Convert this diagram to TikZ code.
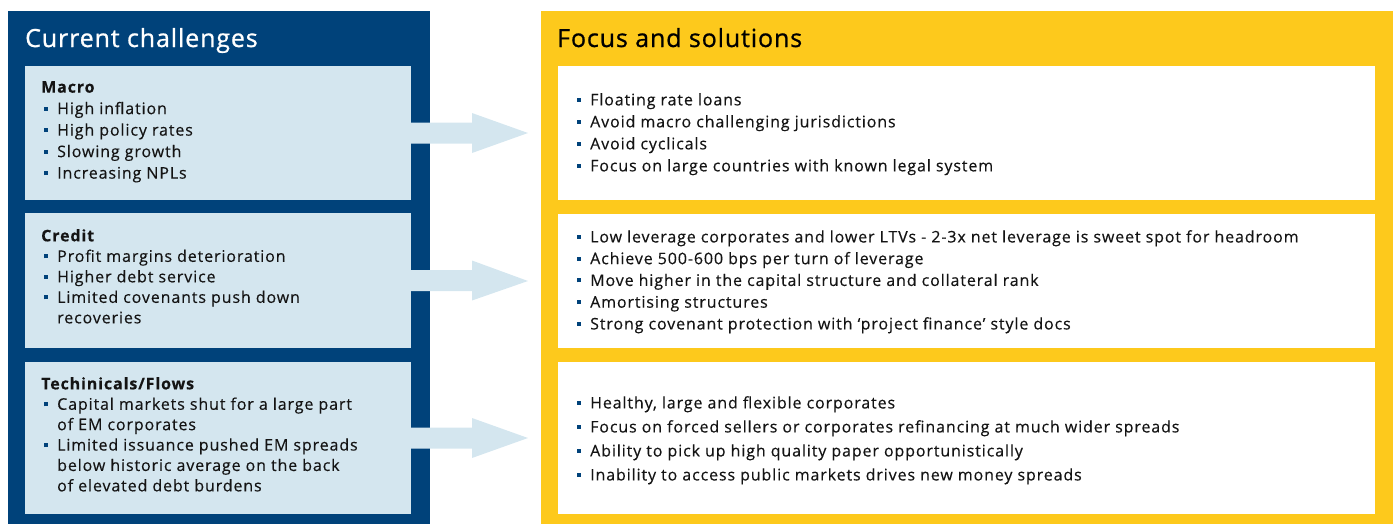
\documentclass[tikz,border=0pt]{standalone}
\usepackage{fontspec}
\setmainfont{Open Sans}[LetterSpace=5.5, FakeBold=0.3]
\newfontfamily\titlefont{Open Sans}[LetterSpace=3.5, FakeBold=0.8]
\usetikzlibrary{positioning,calc}

\definecolor{navyblue}{HTML}{00427A}
\definecolor{paleblue}{HTML}{D4E6EF}
\definecolor{sunyellow}{HTML}{FDC91C}
\definecolor{inkblack}{HTML}{141414}

% square bullet and hanging indent
\newcommand{\bul}{\makebox[13pt][l]{\textcolor{navyblue}{\rule[3.5pt]{4pt}{4pt}}}}
\newcommand{\hang}{\hspace*{13pt}}

\tikzset{
  panel/.style={anchor=north west, inner sep=0pt, outer sep=0pt},
  challenge/.style={panel, fill=paleblue, minimum width=386pt},
  solution/.style={panel, fill=white, minimum width=817pt},
  title/.style={anchor=base west, inner sep=0pt, font=\titlefont\fontsize{25}{30}\selectfont},
  listtext/.style={anchor=north west, inner sep=0pt, align=left, text=inkblack},
  flow/.style={fill=paleblue}
}

% arrow from a challenge box to a solution box
\newcommand{\flowarrow}[2]{%
  \fill[flow] ($(#1.east)+(0,-10.5)$) -- ($(#1.east)+(61,-10.5)$)
    -- ($(#1.east)+(61,-20)$) -- ($(#2.west)+(-30,0)$)
    -- ($(#1.east)+(61,20)$) -- ($(#1.east)+(61,10.5)$)
    -- ($(#1.east)+(0,10.5)$) -- cycle;}

\begin{document}
\begin{tikzpicture}[x=1pt, y=-1pt]
  \useasboundingbox (0,0) rectangle (1393,525);

  % panels
  \node[panel, fill=navyblue, minimum width=422pt, minimum height=513pt] (left) at (8,11) {};
  \node[panel, fill=sunyellow, minimum width=852pt, minimum height=513pt] (right) at (541,11) {};
  \node[title, text=white] (lefttitle) at (25,47) {Current challenges};
  \node[title, text=black] (righttitle) at (557,47) {Focus and solutions};

  % challenge boxes
  \node[challenge, minimum height=134pt] (macro) at (25,66) {};
  \node[challenge, minimum height=135pt] (credit) at (25,213) {};
  \node[challenge, minimum height=152pt] (flows) at (25,362) {};

  % solution boxes
  \node[solution, minimum height=134pt] (sol1) at (558,66) {};
  \node[solution, minimum height=134pt] (sol2) at (558,214) {};
  \node[solution, minimum height=152pt] (sol3) at (558,362) {};

  % arrows
  \flowarrow{macro}{sol1}
  \flowarrow{credit}{sol2}
  \flowarrow{flows}{sol3}

  % challenge texts
  \node[listtext, font=\fontsize{16}{21.5}\selectfont] (macrotxt) at ($(macro.north west)+(16,15)$)
    {\textbf{Macro}\\
     \hspace*{3pt}\bul High inflation\\
     \hspace*{3pt}\bul High policy rates\\
     \hspace*{3pt}\bul Slowing growth\\
     \hspace*{3pt}\bul Increasing NPLs};
  \node[listtext, font=\fontsize{16}{20.5}\selectfont] (credittxt) at ($(credit.north west)+(16,16)$)
    {\textbf{Credit}\\
     \hspace*{3pt}\bul Profit margins deterioration\\
     \hspace*{3pt}\bul Higher debt service\\
     \hspace*{3pt}\bul Limited covenants push down\\
     \hspace*{3pt}\hang recoveries};
  \node[listtext, font=\fontsize{16}{20.4}\selectfont] (flowstxt) at ($(flows.north west)+(16,15)$)
    {\textbf{Techinicals/Flows}\\
     \hspace*{3pt}\bul Capital markets shut for a large part\\
     \hspace*{3pt}\hang of EM corporates\\
     \hspace*{3pt}\bul Limited issuance pushed EM spreads\\
     \hspace*{3pt}\hang below historic average on the back\\
     \hspace*{3pt}\hang of elevated debt burdens};

  % solution texts
  \node[listtext, font=\fontsize{16}{22}\selectfont] (sol1txt) at ($(sol1.north west)+(19,27)$)
    {\bul Floating rate loans\\
     \bul Avoid macro challenging jurisdictions\\
     \bul Avoid cyclicals\\
     \bul Focus on large countries with known legal system};
  \node[listtext, font=\fontsize{16}{21.75}\selectfont] (sol2txt) at ($(sol2.north west)+(19,16)$)
    {\bul Low leverage corporates and lower LTVs - 2-3x net leverage is sweet spot for headroom\\
     \bul Achieve 500-600 bps per turn of leverage\\
     \bul Move higher in the capital structure and collateral rank\\
     \bul Amortising structures\\
     \bul Strong covenant protection with ‘project finance’ style docs};
  \node[listtext, font=\fontsize{16}{24}\selectfont] (sol3txt) at ($(sol3.north west)+(19,34)$)
    {\bul Healthy, large and flexible corporates\\
     \bul Focus on forced sellers or corporates refinancing at much wider spreads\\
     \bul Ability to pick up high quality paper opportunistically\\
     \bul Inability to access public markets drives new money spreads};
\end{tikzpicture}
\end{document}
